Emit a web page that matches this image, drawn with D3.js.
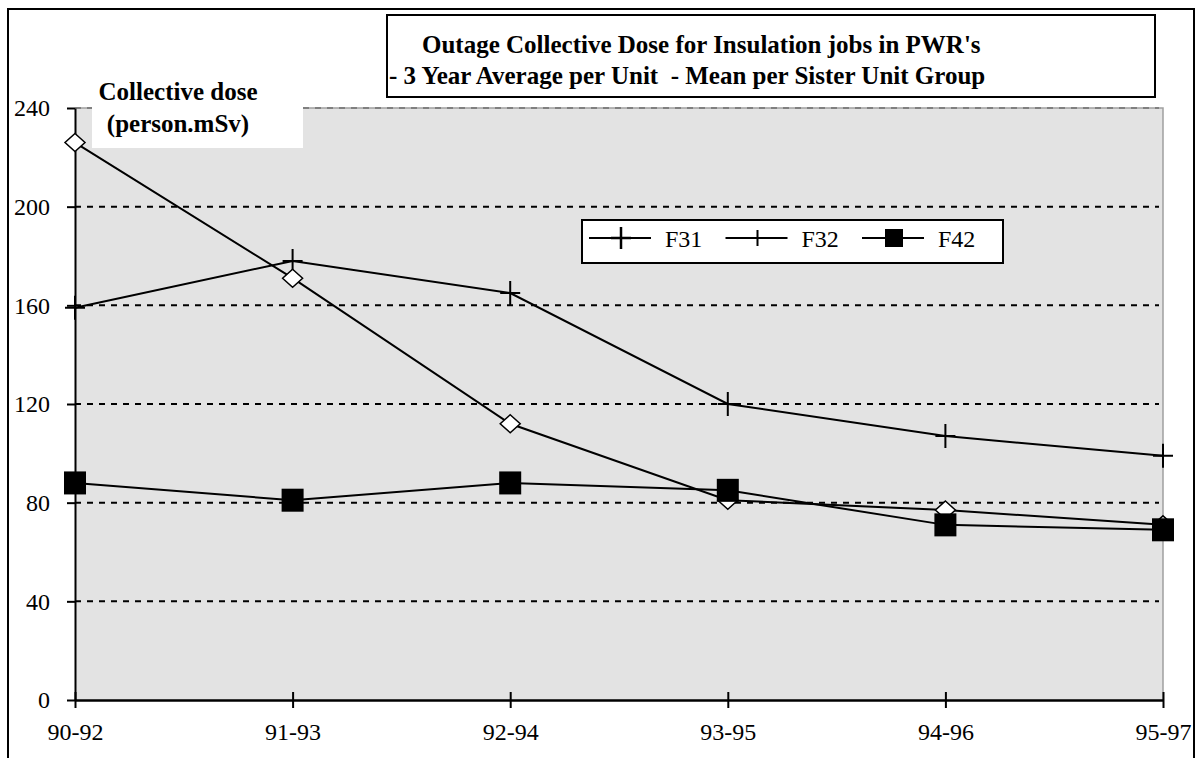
<!DOCTYPE html>
<html>
<head>
<meta charset="utf-8">
<script src="https://cdn.jsdelivr.net/npm/d3@7"></script>
<style>
  body { margin: 0; background: #fff; }
</style>
</head>
<body>
<div id="chart"></div>
<script>
// chart data
var categories = ["90-92", "91-93", "92-94", "93-95", "94-96", "95-97"];
var f31Values = [159, 178, 165, 120, 107, 99];
var f32Values = [226, 171, 112, 81, 77, 71];
var f42Values = [88, 81, 88, 85, 71, 69];
var seriesNames = ["F31", "F32", "F42"];
var yTicks = [0, 40, 80, 120, 160, 200, 240];
var titleLines = ["Outage Collective Dose for Insulation jobs in PWR's",
                  "- 3 Year Average per Unit  - Mean per Sister Unit Group"];
var yLabelLines = ["Collective dose", "(person.mSv)"];

var serifFont = "'Liberation Serif', 'DejaVu Serif', 'Noto Serif', 'Nimbus Roman', FreeSerif, 'Times New Roman', Times, serif";

var totalW = 1198, totalH = 758;
var margin = { top: 108, right: 35, bottom: 58, left: 75 };
var width = totalW - margin.left - margin.right,
    height = totalH - margin.top - margin.bottom;

var svgRoot = d3.select("#chart")
  .append("svg")
    .attr("width", totalW)
    .attr("height", totalH)
    .style("font-family", serifFont);

// outer frame
svgRoot.append("rect")
  .attr("x", 8).attr("y", 9)
  .attr("width", 1186).attr("height", 760)
  .attr("fill", "#fff")
  .attr("stroke", "#000")
  .attr("stroke-width", 2);

var svg = svgRoot.append("g")
  .attr("transform", "translate(" + margin.left + "," + margin.top + ")");

var x = d3.scalePoint()
  .domain(categories)
  .range([0, width]);

var y = d3.scaleLinear()
  .domain([0, 240])
  .range([height, 0]);

// plot area
svg.append("rect")
  .attr("width", width)
  .attr("height", height)
  .attr("fill", "#e3e3e3");

svg.append("path")
  .attr("d", "M0,0H" + width + "V" + height)
  .attr("fill", "none")
  .attr("stroke", "#a0a0a0")
  .attr("stroke-width", 1.5);

// dashed gridlines
svg.append("g")
  .selectAll("line")
  .data(yTicks.filter((d) => d > 0))
  .enter()
  .append("line")
    .attr("x1", 0)
    .attr("x2", width - 4)
    .attr("y1", (d) => y(d))
    .attr("y2", (d) => y(d))
    .attr("stroke", (d) => d == 240 ? "#808080" : "#000")
    .attr("stroke-width", 2)
    .attr("stroke-dasharray", "6,6");

// y axis
var yAxis = svg.append("g")
  .call(d3.axisLeft(y)
    .tickValues(yTicks)
    .tickSize(8)
    .tickSizeOuter(0)
    .tickPadding(17));
yAxis.attr("font-family", null).attr("font-size", null);
yAxis.selectAll("path").attr("stroke-width", 2);
yAxis.selectAll("line").attr("stroke-width", 2);
yAxis.selectAll("text")
  .style("font-size", "24px")
  .style("font-family", serifFont)
  .attr("fill", "#000");

// x axis
var xAxis = svg.append("g")
  .attr("transform", "translate(0," + height + ")")
  .call(d3.axisBottom(x)
    .tickSize(8)
    .tickSizeOuter(0)
    .tickPadding(15));
xAxis.attr("font-family", null).attr("font-size", null);
xAxis.selectAll("path").attr("stroke-width", 2.5);
xAxis.selectAll(".tick line")
  .attr("y1", -8)
  .attr("y2", 8)
  .attr("stroke-width", 2);
xAxis.selectAll("text")
  .style("font-size", "24px")
  .style("font-family", serifFont)
  .attr("fill", "#000");

// markers
var plusPath = "M-10,0H10M0,-12V12";
var plusSmall = "M-8,0H8M0,-8V8";
var diamondPath = "M0,-9L10,0L0,9L-10,0Z";

function addLine(values) {
  svg.append("path")
    .datum(values)
    .attr("fill", "none")
    .attr("stroke", "#000")
    .attr("stroke-width", 2)
    .attr("d", d3.line()
      .x((d, i) => x(categories[i]))
      .y((d) => y(d)));
}

addLine(f31Values);
addLine(f32Values);

svg.append("g")
  .selectAll("path")
  .data(f31Values)
  .enter()
  .append("path")
    .attr("transform", (d, i) => "translate(" + x(categories[i]) + "," + y(d) + ")")
    .attr("d", plusPath)
    .attr("stroke", "#000")
    .attr("stroke-width", 2);

svg.append("g")
  .selectAll("path")
  .data(f32Values)
  .enter()
  .append("path")
    .attr("transform", (d, i) => "translate(" + x(categories[i]) + "," + y(d) + ")")
    .attr("d", diamondPath)
    .attr("fill", "#fff")
    .attr("stroke", "#000")
    .attr("stroke-width", 1.5);

addLine(f42Values);

svg.append("g")
  .selectAll("rect")
  .data(f42Values)
  .enter()
  .append("rect")
    .attr("x", (d, i) => x(categories[i]) - 11)
    .attr("y", (d) => y(d) - 11.5)
    .attr("width", 22)
    .attr("height", 23)
    .attr("fill", "#000");

// y label box
svgRoot.append("rect")
  .attr("x", 92).attr("y", 100)
  .attr("width", 211).attr("height", 48)
  .attr("fill", "#fff");

svgRoot.append("g")
  .selectAll("text")
  .data(yLabelLines)
  .enter()
  .append("text")
    .attr("x", 178)
    .attr("y", (d, i) => 100 + i * 32)
    .attr("text-anchor", "middle")
    .style("font-size", "25px")
    .style("font-weight", "bold")
    .text((d) => d);

// title box
svgRoot.append("rect")
  .attr("x", 387).attr("y", 15)
  .attr("width", 768).attr("height", 82)
  .attr("fill", "#fff")
  .attr("stroke", "#000")
  .attr("stroke-width", 2);

svgRoot.append("g")
  .selectAll("text")
  .data(titleLines)
  .enter()
  .append("text")
    .attr("x", (d, i) => i == 0 ? 422 : 389)
    .attr("y", (d, i) => 53 + i * 31)
    .style("font-size", "25px")
    .style("font-weight", "bold")
    .style("white-space", "pre")
    .text((d) => d);

// legend
var legend = svgRoot.append("g");
legend.append("rect")
  .attr("x", 582).attr("y", 220)
  .attr("width", 421).attr("height", 43)
  .attr("fill", "#fff")
  .attr("stroke", "#000")
  .attr("stroke-width", 2);

var legendItems = legend.selectAll("g")
  .data(seriesNames)
  .enter()
  .append("g")
    .attr("transform", (d, i) => "translate(" + (621 + i * 136.5) + ",238)");

legendItems.append("line")
  .attr("x1", -32).attr("x2", 30)
  .attr("stroke", "#000")
  .attr("stroke-width", 2);

legendItems.each(function(d, i) {
  var g = d3.select(this);
  if (i == 2) {
    g.append("rect")
      .attr("x", -9).attr("y", -9)
      .attr("width", 18).attr("height", 18)
      .attr("fill", "#000");
  } else {
    g.append("path")
      .attr("d", i == 0 ? "M-10,0H10M0,-11V11" : plusSmall)
      .attr("stroke", "#000")
      .attr("stroke-width", i == 0 ? 2.5 : 2);
  }
});

legendItems.append("text")
  .attr("x", 44)
  .attr("y", 9)
  .style("font-size", "24px")
  .text((d) => d);
</script>
</body>
</html>
